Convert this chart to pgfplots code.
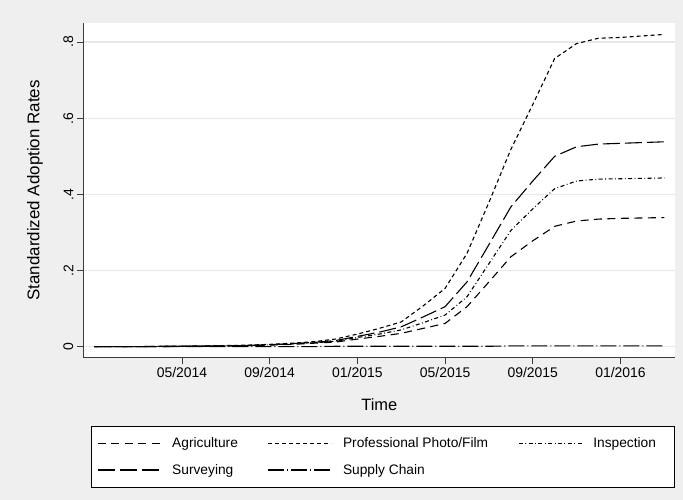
\documentclass[border=0pt]{standalone}
\usepackage{fontspec}
\setmainfont{Liberation Sans}
\usepackage{pgfplots}
\usepackage{pgfplotstable}
\pgfplotsset{compat=1.18}

\definecolor{bgcol}{RGB}{239,239,239}
\definecolor{gridcol}{RGB}{232,232,232}
\definecolor{axcol}{RGB}{60,60,60}

% month index: 0 = 01/2014 ... 26 = 03/2016
\pgfplotstableread{
m   agri   photo  insp   surv   supply
0   0.000  0.000  0.000  0.000  0.000
1   0.000  0.000  0.000  0.000  0.000
2   0.000  0.000  0.000  0.000  0.000
3   0.000  0.001  0.000  0.001  0.000
4   0.001  0.001  0.001  0.001  0.000
5   0.001  0.002  0.001  0.002  0.000
6   0.002  0.003  0.002  0.002  0.000
7   0.003  0.004  0.003  0.003  0.000
8   0.004  0.006  0.005  0.005  0.000
9   0.006  0.009  0.007  0.008  0.000
10  0.009  0.013  0.010  0.011  0.000
11  0.012  0.020  0.014  0.016  0.001
12  0.020  0.033  0.024  0.027  0.001
13  0.027  0.048  0.033  0.038  0.001
14  0.035  0.065  0.044  0.052  0.001
15  0.048  0.107  0.063  0.078  0.001
16  0.061  0.153  0.083  0.105  0.001
17  0.105  0.245  0.131  0.170  0.001
18  0.170  0.379  0.218  0.268  0.001
19  0.236  0.518  0.305  0.367  0.002
20  0.278  0.636  0.362  0.435  0.002
21  0.316  0.757  0.415  0.500  0.002
22  0.330  0.796  0.435  0.525  0.002
23  0.335  0.810  0.440  0.532  0.002
24  0.337  0.812  0.441  0.534  0.002
25  0.338  0.816  0.442  0.536  0.002
26  0.339  0.820  0.443  0.538  0.002
}\adopt

\begin{document}
\begin{tikzpicture}
\fill[bgcol] (0,0) rectangle (683bp,500bp);
\useasboundingbox (0,0) rectangle (683bp,500bp);
\begin{axis}[
  at={(83.3bp,142.3bp)}, anchor=south west,
  scale only axis, width=592bp, height=334.7bp,
  xmin=-0.5, xmax=26.5, ymin=-0.029, ymax=0.85,
  axis lines*=left,
  axis line style={axcol, line width=0.8bp},
  axis background/.style={fill=white},
  xtick={4,8,12,16,20,24},
  xticklabels={05/2014,09/2014,01/2015,05/2015,09/2015,01/2016},
  ytick={0,0.2,0.4,0.6,0.8},
  yticklabels={0,.2,.4,.6,.8},
  tick align=outside, major tick length=6.5bp,
  tick style={axcol, line width=0.8bp},
  ymajorgrids, grid style={gridcol, line width=1.2bp},
  /pgf/number format/assume math mode=true,
  tick label style={font=\fontsize{14}{16}\selectfont},
  yticklabel style={rotate=90, anchor=south},
  xlabel={Time}, ylabel={Standardized Adoption Rates},
  xlabel style={font=\fontsize{16.5}{19}\selectfont,
    at={(axis description cs:0.5,-0.14)}, anchor=center},
  ylabel style={font=\fontsize{17}{19}\selectfont,
    at={(axis description cs:-0.0816,0.5)}, anchor=center},
  legend columns=3,
  legend cell align=left,
  legend image code/.code={\draw[#1] (0bp,0bp) -- (63bp,0bp);},
  legend style={
    at={(axis description cs:0.5055,-0.204)}, anchor=north,
    draw=black, line width=0.8bp, fill=white,
    font=\fontsize{13.8}{16}\selectfont,
    inner xsep=6bp, inner ysep=9.5bp,
    nodes={inner xsep=0bp},
    /tikz/every odd column/.append style={column sep=11bp},
    /tikz/every even column/.append style={column sep=30bp},
    row sep=11bp,
  },
  every axis plot/.append style={black, line width=1.1bp},
]
\addplot[dash pattern=on 8bp off 5.5bp] table[x=m, y=agri] {\adopt};
\addlegendentry{Agriculture}
\addplot[dash pattern=on 4bp off 3bp] table[x=m, y=photo] {\adopt};
\addlegendentry{Professional Photo/Film}
\addplot[dash pattern=on 4bp off 2.5bp on 0.8bp off 2.5bp] table[x=m, y=insp] {\adopt};
\addlegendentry{Inspection\hspace*{12bp}\mbox{}}
\addplot[dash pattern=on 17bp off 5bp] table[x=m, y=surv] {\adopt};
\addlegendentry{Surveying}
\addplot[dash pattern=on 16bp off 3bp on 1bp off 3bp] table[x=m, y=supply] {\adopt};
\addlegendentry{Supply Chain}
\end{axis}
\end{tikzpicture}
\end{document}
